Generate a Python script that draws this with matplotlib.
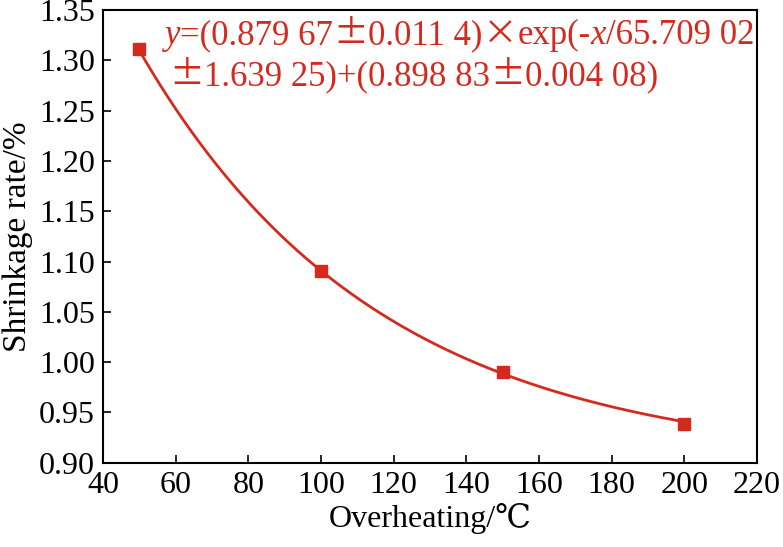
import matplotlib
matplotlib.use('Agg')
import matplotlib.pyplot as plt
import matplotlib.transforms as mtransforms
import numpy as np

# Данные
overheating = [50, 100, 150, 200]
shrinkage = [1.311, 1.091, 0.990, 0.939]

# Параметры аппроксимации (из подписи на графике)
fit_a = 0.87967
fit_t = 65.70902
fit_c = 0.89883

x_ticks = [40, 60, 80, 100, 120, 140, 160, 180, 200, 220]
y_ticks = [0.90, 0.95, 1.00, 1.05, 1.10, 1.15, 1.20, 1.25, 1.30, 1.35]

red = '#d42a1e'
serif = ['Liberation Serif', 'DejaVu Serif']
wide = ['Noto Sans CJK SC', 'DejaVu Sans']

# Куски подписи формулы: (текст, семейство, стиль)
line1 = [('y', serif, 'italic'), ('=(0.879 67', serif, 'normal'), ('±', wide, 'normal'),
         ('0.011 4)', serif, 'normal'), ('×', wide, 'normal'), ('exp(-', serif, 'normal'),
         ('x', serif, 'italic'), ('/65.709 02', serif, 'normal')]
line2 = [('±', wide, 'normal'), ('1.639 25)+(0.898 83', serif, 'normal'), ('±', wide, 'normal'),
         ('0.004 08)', serif, 'normal')]

plt.rcParams['font.family'] = serif

fig = plt.figure(figsize=(7.83, 5.47), dpi=100)
ax = fig.add_axes([0.1315, 0.154, 0.8353, 0.8277])

# Кривая аппроксимации
x_fit = np.linspace(overheating[0], overheating[-1], 300)
y_fit = fit_a * np.exp(-x_fit / fit_t) + fit_c
ax.plot(x_fit, y_fit, color=red, linewidth=2)
ax.plot(overheating, shrinkage, 's', color=red, markersize=8.5)

ax.set_xlim(40, 220)
ax.set_ylim(0.90, 1.35)
ax.set_xticks(x_ticks)
ax.set_yticks(y_ticks)
ax.set_yticklabels([f'{v:.2f}' for v in y_ticks])
ax.tick_params(direction='in', length=6, width=1.2, labelsize=23, pad=6)
for s in ax.spines.values():
    s.set_linewidth(1.5)

ax.set_xlabel('Overheating/℃', fontsize=23, labelpad=2)
ax.set_ylabel('Shrinkage rate/%', fontsize=24, labelpad=4)

# Подпись формулы собираем из кусков
renderer = fig.canvas.get_renderer()


def draw_line(pieces, x0, y0):
    offset = 0
    for txt, fam, style in pieces:
        tr = mtransforms.offset_copy(ax.transAxes, fig=fig, x=offset, y=0, units='dots')
        t = ax.text(x0, y0, txt, transform=tr, color=red, fontsize=25,
                    family=fam, style=style, va='baseline', ha='left')
        offset += t.get_window_extent(renderer).width


draw_line(line1, 0.095, 0.925)
draw_line(line2, 0.102, 0.834)

plt.savefig('out.png', dpi=100)
plt.close()
